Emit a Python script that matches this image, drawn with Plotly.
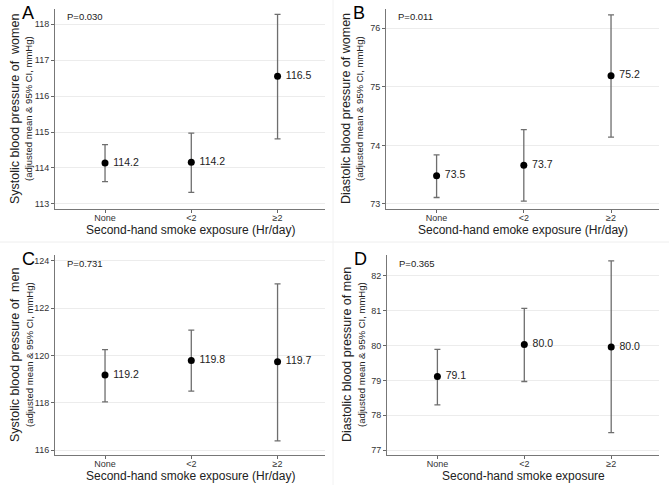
import plotly.graph_objects as go

categories = ["None", "<2", "≥2"]

# Panel A: systolic, women
a_mean = [114.14, 114.16, 116.55]
a_low = [113.62, 113.32, 114.81]
a_high = [114.65, 114.97, 118.27]
a_lab = ["114.2", "114.2", "116.5"]

# Panel B: diastolic, women
b_mean = [73.48, 73.66, 75.19]
b_low = [73.11, 73.05, 74.14]
b_high = [73.84, 74.27, 76.23]
b_lab = ["73.5", "73.7", "75.2"]

# Panel C: systolic, men
c_mean = [119.17, 119.79, 119.73]
c_low = [118.04, 118.49, 116.39]
c_high = [120.25, 121.07, 123.03]
c_lab = ["119.2", "119.8", "119.7"]

# Panel D: diastolic, men
d_mean = [79.11, 80.03, 79.96]
d_low = [78.30, 78.97, 77.50]
d_high = [79.89, 81.07, 82.43]
d_lab = ["79.1", "80.0", "80.0"]

W, H = 669, 485
FONT = "Liberation Sans, Arial, Helvetica, sans-serif"
SUB = "(adjusted mean & 95% CI, mmHg)"

panels = [
    dict(key="A", mean=a_mean, low=a_low, high=a_high, lab=a_lab, p="P=0.030",
         ytitle="Systolic blood pressure of  women", xtitle="Second-hand smoke exposure (Hr/day)",
         ticks=[113, 114, 115, 116, 117, 118], yr=[112.86, 118.42],
         px=(55, 325), py=(9, 209)),
    dict(key="B", mean=b_mean, low=b_low, high=b_high, lab=b_lab, p="P=0.011",
         ytitle="Diastolic blood pressure of women", xtitle="Second-hand emoke exposure (Hr/day)",
         ticks=[73, 74, 75, 76], yr=[72.914, 76.33],
         px=(386, 659), py=(9, 209)),
    dict(key="C", mean=c_mean, low=c_low, high=c_high, lab=c_lab, p="P=0.731",
         ytitle="Systolic blood pressure of  men", xtitle="Second-hand smoke exposure (Hr/day)",
         ticks=[116, 118, 120, 122, 124], yr=[115.79, 124.25],
         px=(55, 325), py=(255, 455)),
    dict(key="D", mean=d_mean, low=d_low, high=d_high, lab=d_lab, p="P=0.365",
         ytitle="Diastolic blood pressure of men", xtitle="Second-hand smoke exposure",
         ticks=[77, 78, 79, 80, 81, 82], yr=[76.86, 82.6],
         px=(387, 659), py=(255, 455)),
]

fig = go.Figure()
annotations = []
shapes = []
layout = {}
for i, pnl in enumerate(panels, start=1):
    xa = "x" if i == 1 else f"x{i}"
    ya = "y" if i == 1 else f"y{i}"
    xpos = [1, 2, 3]
    err_plus = [h - m for h, m in zip(pnl["high"], pnl["mean"])]
    err_minus = [m - l for m, l in zip(pnl["mean"], pnl["low"])]
    fig.add_trace(go.Scatter(
        x=xpos, y=pnl["mean"], mode="markers+text",
        text=[" " + t for t in pnl["lab"]], textposition="middle right",
        textfont=dict(size=10.5, color="#222", family=FONT),
        marker=dict(size=7, color="black"),
        error_y=dict(type="data", array=err_plus, arrayminus=err_minus,
                     color="#6e6e6e", thickness=1.3, width=3),
        xaxis=xa, yaxis=ya, showlegend=False, cliponaxis=False,
    ))
    x0, x1 = pnl["px"]
    y0, y1 = pnl["py"]
    xk = "xaxis" if i == 1 else f"xaxis{i}"
    yk = "yaxis" if i == 1 else f"yaxis{i}"
    layout[xk] = dict(
        domain=[x0 / W, x1 / W], anchor=ya, range=[0.42, 3.55],
        tickvals=xpos, ticktext=categories, ticks="outside", ticklen=3,
        tickcolor="#666", showline=True, linecolor="#777", linewidth=1,
        showgrid=False, zeroline=False, ticklabelstandoff=-3,
        tickfont=dict(size=9, color="#333", family=FONT),
    )
    layout[yk] = dict(
        domain=[1 - y1 / H, 1 - y0 / H], anchor=xa, range=pnl["yr"],
        tickvals=pnl["ticks"], ticks="outside", ticklen=3, tickcolor="#666",
        showline=True, linecolor="#777", linewidth=1,
        showgrid=True, gridcolor="#ececec", gridwidth=1, zeroline=False,
        tickfont=dict(size=9, color="#333", family=FONT),
    )
    # panel letter
    annotations.append(dict(
        text=pnl["key"], x=(x0 - 35) / W, y=1 - (y0 - 8) / H,
        xref="paper", yref="paper", xanchor="left", yanchor="top",
        showarrow=False, font=dict(size=18, color="black", family=FONT)))
    # P value
    annotations.append(dict(
        text=pnl["p"], x=(x0 + 10) / W, y=1 - (y0 + 8) / H,
        xref="paper", yref="paper", xanchor="left", yanchor="middle",
        showarrow=False, font=dict(size=9.5, color="#222", family=FONT)))
    # y title (two lines)
    ymid = 1 - ((y0 + y1) / 2) / H
    annotations.append(dict(
        text=pnl["ytitle"], x=(x0 - 40) / W, y=ymid,
        xref="paper", yref="paper", xanchor="center", yanchor="middle",
        textangle=-90, showarrow=False,
        font=dict(size=12.5, color="#222", family=FONT)))
    annotations.append(dict(
        text=SUB.replace("&", "&amp;"), x=(x0 - 26) / W, y=ymid,
        xref="paper", yref="paper", xanchor="center", yanchor="middle",
        textangle=-90, showarrow=False,
        font=dict(size=9.5, color="#222", family=FONT)))
    # x title
    annotations.append(dict(
        text=pnl["xtitle"], x=((x0 + x1) / 2) / W, y=1 - (y1 + 21) / H,
        xref="paper", yref="paper", xanchor="center", yanchor="middle",
        showarrow=False, font=dict(size=12, color="#222", family=FONT)))

# faint panel separators
shapes.append(dict(type="line", xref="paper", yref="paper",
                   x0=0, x1=1, y0=1 - 242 / H, y1=1 - 242 / H,
                   line=dict(color="#eeeeee", width=1)))
shapes.append(dict(type="line", xref="paper", yref="paper",
                   x0=333 / W, x1=333 / W, y0=0, y1=1,
                   line=dict(color="#f2f2f2", width=1)))

fig.update_layout(
    width=W, height=H, margin=dict(l=0, r=0, t=0, b=0),
    paper_bgcolor="white", plot_bgcolor="white",
    annotations=annotations, shapes=shapes,
    font=dict(family=FONT), **layout,
)
fig.write_html("out.html", config={"displayModeBar": False},
               post_script="document.body.style.margin='0';document.body.style.padding='0';")
